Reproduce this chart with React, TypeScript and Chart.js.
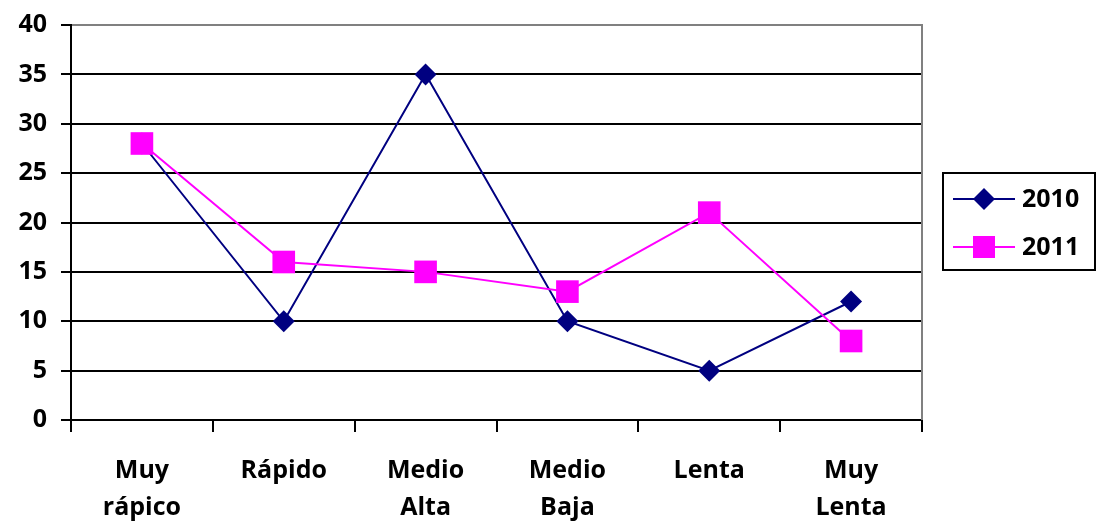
import React, { useEffect, useRef } from "react";
import { Chart, registerables } from "chart.js";

Chart.register(...registerables);

const categories: (string | string[])[] = [
  ["Muy", "rápico"],
  "Rápido",
  ["Medio", "Alta"],
  ["Medio", "Baja"],
  "Lenta",
  ["Muy", "Lenta"],
];
const series2010 = [28, 10, 35, 10, 5, 12];
const series2011 = [28, 16, 15, 13, 21, 8];
const seriesNames = ["2010", "2011"];
const yMin = 0;
const yMax = 40;
const yStep = 5;

const NAVY = "#000080";
const MAGENTA = "#FF00FF";
const FONT = "'Open Sans'";

const legendPlugin = {
  id: "boxLegend",
  afterDraw(chart: any) {
    const { ctx, chartArea } = chart;
    ctx.save();
    // right border of plot area
    ctx.strokeStyle = "#808080";
    ctx.lineWidth = 2;
    ctx.beginPath();
    ctx.moveTo(chartArea.right, chartArea.top - 1);
    ctx.lineTo(chartArea.right, chartArea.bottom);
    ctx.stroke();

    const bx = chartArea.right + 21;
    const by = 173;
    const bw = 152;
    const bh = 97;
    ctx.strokeStyle = "#000";
    ctx.lineWidth = 2;
    ctx.strokeRect(bx, by, bw, bh);

    const entries = chart.data.datasets.map((d: any) => d);
    const rows = [by + 26, by + 74];
    entries.forEach((ds: any, i: number) => {
      const y = rows[i];
      const x0 = bx + 10;
      const x1 = bx + 72;
      const cx = (x0 + x1) / 2;
      ctx.strokeStyle = ds.borderColor;
      ctx.lineWidth = 2;
      ctx.beginPath();
      ctx.moveTo(x0, y);
      ctx.lineTo(x1, y);
      ctx.stroke();
      ctx.fillStyle = ds.pointBackgroundColor;
      if (ds.pointStyle === "rectRot") {
        const r = 11;
        ctx.beginPath();
        ctx.moveTo(cx, y - r);
        ctx.lineTo(cx + r, y);
        ctx.lineTo(cx, y + r);
        ctx.lineTo(cx - r, y);
        ctx.closePath();
        ctx.fill();
      } else {
        const s = 11;
        ctx.fillRect(cx - s, y - s, 2 * s, 2 * s);
      }
      ctx.fillStyle = "#000";
      ctx.font = `bold 25px ${FONT}`;
      ctx.textAlign = "left";
      ctx.textBaseline = "middle";
      ctx.fillText(ds.label, x1 + 7, y + 1);
    });
    ctx.restore();
  },
};

export default function App() {
  const ref = useRef<HTMLCanvasElement | null>(null);
  useEffect(() => {
    if (!ref.current) return;
    const chart = new Chart(ref.current, {
      type: "line",
      data: {
        labels: categories,
        datasets: [
          {
            label: seriesNames[0],
            data: series2010,
            borderColor: NAVY,
            backgroundColor: NAVY,
            pointBackgroundColor: NAVY,
            pointBorderColor: NAVY,
            pointStyle: "rectRot",
            pointRadius: 11,
            pointBorderWidth: 0,
            borderWidth: 2,
            tension: 0,
            order: 1,
          },
          {
            label: seriesNames[1],
            data: series2011,
            borderColor: MAGENTA,
            backgroundColor: MAGENTA,
            pointBackgroundColor: MAGENTA,
            pointBorderColor: MAGENTA,
            pointStyle: "rect",
            pointRadius: 16,
            pointBorderWidth: 0,
            borderWidth: 2,
            tension: 0,
            order: 0,
          },
        ],
      },
      plugins: [legendPlugin],
      options: {
        animation: false,
        responsive: false,
        maintainAspectRatio: false,
        layout: { padding: { top: 25, right: 175, left: 0, bottom: 0 } },
        plugins: {
          legend: { display: false },
          tooltip: { enabled: false },
        },
        scales: {
          x: {
            offset: true,
            grid: {
              offset: true,
              drawOnChartArea: false,
              drawTicks: true,
              tickLength: 12,
              color: "#000",
              lineWidth: 2,
            },
            border: { display: true, color: "#000", width: 2 },
            ticks: {
              color: "#000",
              font: { family: FONT, size: 25, weight: "bold", lineHeight: 1.5 },
              padding: 20,
              maxRotation: 0,
              autoSkip: false,
            },
            afterFit: (scale: any) => {
              scale.height = 110;
            },
          },
          y: {
            min: yMin,
            max: yMax,
            grid: {
              color: (c: any) => (c.tick && c.tick.value === yMax ? "#808080" : "#000"),
              tickColor: "#000",
              lineWidth: 2,
              tickLength: 10,
            },
            border: { display: true, color: "#000", width: 2 },
            ticks: {
              stepSize: yStep,
              color: "#000",
              font: { family: FONT, size: 25, weight: "bold" },
              padding: 14,
            },
            afterFit: (scale: any) => {
              scale.width = 71;
              scale.paddingTop = 0;
              scale.paddingBottom = 0;
            },
          },
        },
      },
    });
    return () => chart.destroy();
  }, []);
  return (
    <div style={{ position: "absolute", left: 0, top: 0, width: 1097, height: 530, background: "#fff" }}>
      <canvas ref={ref} width={1097} height={530} style={{ width: 1097, height: 530 }} />
    </div>
  );
}
